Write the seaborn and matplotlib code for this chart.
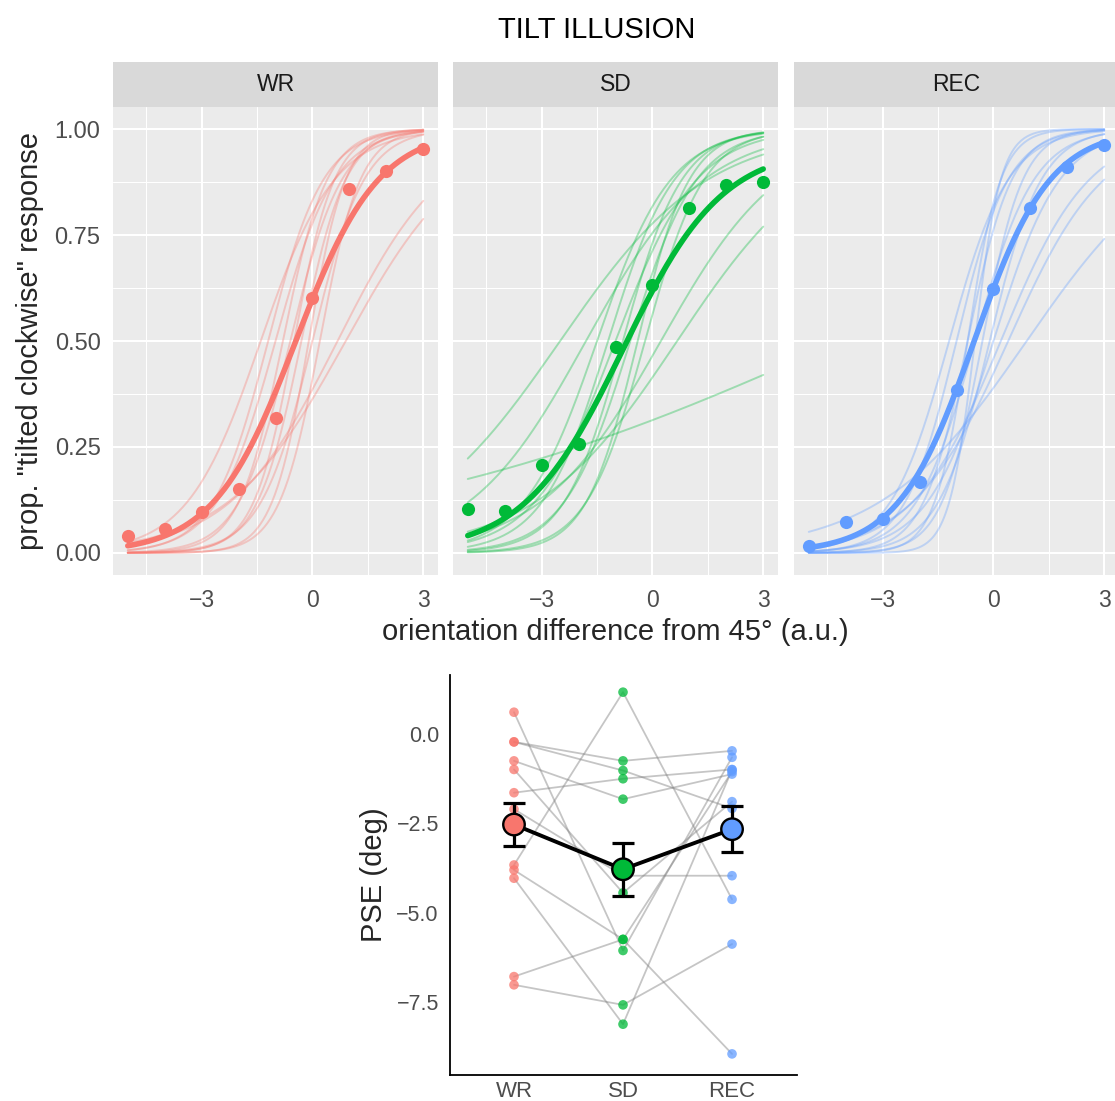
import numpy as np
import pandas as pd
import matplotlib
matplotlib.use("Agg")
import matplotlib.pyplot as plt
import seaborn as sns

sns.set_style("white")
plt.rcParams['font.family'] = ['Liberation Sans', 'DejaVu Sans']

conds = ["WR", "SD", "REC"]
palette = {"WR": "#F8766D", "SD": "#00BA38", "REC": "#619CFF"}

# stimulus levels and group proportions of "clockwise" responses
levels = [-5, -4, -3, -2, -1, 0, 1, 2, 3]
prop_wr = [0.040, 0.057, 0.097, 0.151, 0.318, 0.601, 0.858, 0.900, 0.953]
prop_sd = [0.104, 0.099, 0.208, 0.257, 0.486, 0.632, 0.814, 0.868, 0.875]
prop_rec = [0.017, 0.073, 0.080, 0.167, 0.384, 0.623, 0.814, 0.910, 0.962]

# group psychometric fits (logistic: location, scale, upper asymptote)
fit_mu = [-0.45, -0.8, -0.52]
fit_s = [1.12, 1.35, 1.03]
fit_top = [1.0, 0.96, 1.0]

# individual fits
mu_wr = [-1.4, -1.2, -1.0, -0.8, -0.6, -0.5, -0.3, -0.1, 0.0, 0.2, 0.68, 0.9]
s_wr = [1.0, 0.75, 0.8, 0.6, 0.7, 0.55, 0.6, 0.5, 0.7, 0.55, 1.46, 1.6]
mu_sd = [-2.5, 5.1, -1.8, -1.5, -1.2, -1.0, -0.8, -0.6, -0.4, -0.2, 0.23, 0.67]
s_sd = [2.0, 6.5, 1.6, 1.0, 0.9, 1.1, 0.8, 0.9, 0.7, 0.8, 1.64, 1.93]
mu_rec = [-0.5, -0.7, -1.2, -1.0, -0.7, -0.5, -0.3, -0.1, 0.0, 0.2, 0.4, 0.9]
s_rec = [0.35, 0.45, 0.8, 0.7, 0.6, 0.8, 0.55, 0.7, 0.9, 1.2, 1.3, 2.0]

# PSE per subject (deg), same subject order in every condition
pse_wr = [0.61, -0.22, -0.22, -0.75, -0.99, -1.64, -2.10, -3.66, -3.80, -4.03, -6.78, -7.01]
pse_sd = [-6.05, -0.75, -1.02, -1.82, -4.44, -1.25, -3.96, 1.17, -5.74, -8.11, -5.74, -7.57]
pse_rec = [-0.65, -0.47, -2.08, -1.12, -1.89, -0.99, -3.96, -4.62, -8.94, -1.00, -1.05, -5.87]
pse_mean = [-2.53, -3.78, -2.66]
pse_err = [0.61, 0.74, 0.645]

props = {"WR": prop_wr, "SD": prop_sd, "REC": prop_rec}
ind = {"WR": (mu_wr, s_wr), "SD": (mu_sd, s_sd), "REC": (mu_rec, s_rec)}

xs = np.linspace(-5, 3, 200)
def logistic(x, mu, s, top=1.0):
    return top / (1 + np.exp(-(x - mu) / s))

W, H = 1115, 1101
fig = plt.figure(figsize=(W / 100, H / 100), dpi=100)
def px_axes(x0, y0, x1, y1):
    return fig.add_axes([x0 / W, 1 - y1 / H, (x1 - x0) / W, (y1 - y0) / H])

panel_x = [113, 453, 794]
for i, c in enumerate(conds):
    x0 = panel_x[i]
    ax = px_axes(x0, 107, x0 + 325, 575)
    ax.set_facecolor("#EBEBEB")
    mus, ss = ind[c]
    rows = []
    for j, (m, s) in enumerate(zip(mus, ss)):
        rows.append(pd.DataFrame({"x": xs, "p": logistic(xs, m, s), "subj": j}))
    dfi = pd.concat(rows)
    sns.lineplot(data=dfi, x="x", y="p", units="subj", estimator=None,
                 color=palette[c], alpha=0.33, lw=1.4, ax=ax)
    dfg = pd.DataFrame({"x": xs, "p": logistic(xs, fit_mu[i], fit_s[i], fit_top[i])})
    sns.lineplot(data=dfg, x="x", y="p", color=palette[c], lw=4.0, ax=ax)
    sns.scatterplot(x=levels, y=props[c], color=palette[c], s=90, linewidth=0,
                    ax=ax, zorder=5)
    ax.set_xlim(-5.4, 3.4)
    ax.set_ylim(-0.052, 1.052)
    ax.set_xticks([-3, 0, 3])
    ax.set_xticks([-4.5, -1.5, 1.5], minor=True)
    ax.set_yticks([0, 0.25, 0.5, 0.75, 1.0])
    ax.set_yticks([0.125, 0.375, 0.625, 0.875], minor=True)
    ax.grid(which="major", color="white", lw=1.5)
    ax.grid(which="minor", color="white", lw=0.75)
    ax.set_axisbelow(True)
    for sp in ax.spines.values():
        sp.set_visible(False)
    ax.set_xlabel("")
    ax.set_ylabel("")
    ax.tick_params(which="minor", length=0)
    ax.tick_params(axis="x", which="major", length=4, width=1.1, color="#333333",
                   labelsize=16.5, labelcolor="#4D4D4D", pad=6)
    if i == 0:
        ax.set_yticklabels(["0.00", "0.25", "0.50", "0.75", "1.00"])
        ax.tick_params(axis="y", which="major", length=5, width=1.1, color="#333333",
                       labelsize=17, labelcolor="#4D4D4D", pad=4)
    else:
        ax.tick_params(axis="y", which="major", length=0, labelleft=False)
    # facet strip
    st = px_axes(x0, 62, x0 + 325, 107)
    st.set_facecolor("#D9D9D9")
    st.set_xticks([])
    st.set_yticks([])
    for sp in st.spines.values():
        sp.set_visible(False)
    st.text(0.5, 0.5, c, ha="center", va="center", fontsize=16.5, color="#1A1A1A",
            transform=st.transAxes)

fig.text(597 / W, 1 - 30 / H, "TILT ILLUSION", ha="center", va="center",
         fontsize=21, color="black")
fig.text(615 / W, 1 - 632 / H, "orientation difference from 45\u00b0 (a.u.)",
         ha="center", va="center", fontsize=21)
fig.text(30 / W, 1 - 341 / H, 'prop. "tilted clockwise" response', ha="center",
         va="center", rotation=90, fontsize=21)

# PSE panel
bx = px_axes(450, 675, 797, 1075)
pos = {c: k for k, c in enumerate(conds)}
pse = {"WR": pse_wr, "SD": pse_sd, "REC": pse_rec}
dfp = pd.concat([pd.DataFrame({"cond": c, "pos": pos[c], "pse": pse[c],
                               "subj": range(len(pse[c]))}) for c in conds])
sns.lineplot(data=dfp, x="pos", y="pse", units="subj", estimator=None,
             color="gray", alpha=0.45, lw=1.3, ax=bx)
sns.scatterplot(data=dfp, x="pos", y="pse", hue="cond", palette=palette, s=48,
                linewidth=0, alpha=0.75, legend=False, ax=bx, zorder=3)
dfm = pd.DataFrame({"cond": conds, "pos": [0, 1, 2], "pse": pse_mean})
sns.lineplot(data=dfm, x="pos", y="pse", color="black", lw=2.8, ax=bx, zorder=4)
bx.errorbar(dfm["pos"], dfm["pse"], yerr=pse_err, fmt="none", ecolor="black",
            elinewidth=2.3, capsize=8, capthick=2.3, zorder=5)
sns.scatterplot(data=dfm, x="pos", y="pse", hue="cond", palette=palette, s=240,
                edgecolor="black", linewidth=1.7, legend=False, ax=bx, zorder=6)
bx.set_xlim(-0.587, 2.596)
bx.set_ylim(-9.53, 1.65)
bx.set_xticks([0, 1, 2])
bx.set_xticklabels(conds)
bx.set_yticks([0, -2.5, -5, -7.5])
bx.set_yticklabels(["0.0", "\u22122.5", "\u22125.0", "\u22127.5"])
bx.tick_params(axis="y", length=5, width=1.1, color="#333333", labelsize=15.5,
               labelcolor="#4D4D4D", pad=3)
bx.tick_params(axis="x", length=4, width=1.1, color="#333333", labelsize=16,
               labelcolor="#4D4D4D", pad=0.5)
for sp in ["top", "right"]:
    bx.spines[sp].set_visible(False)
for sp in ["left", "bottom"]:
    bx.spines[sp].set_color("black")
    bx.spines[sp].set_linewidth(1.3)
bx.set_xlabel("")
bx.set_ylabel("PSE (deg)", fontsize=21, labelpad=6)

fig.savefig("out.png", dpi=100)
